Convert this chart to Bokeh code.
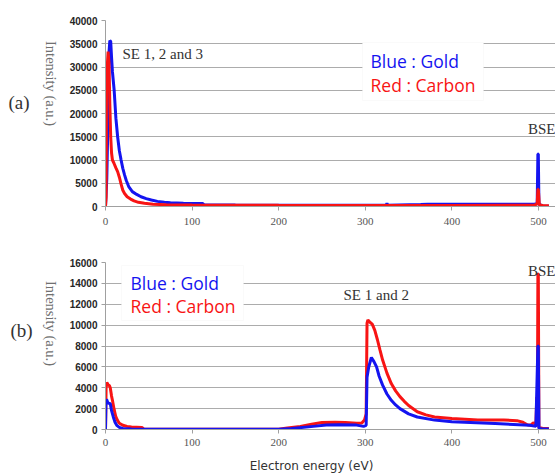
import math
from bokeh.plotting import figure
from bokeh.layouts import column, row
from bokeh.models import Range1d, SingleIntervalTicker, FixedTicker, Label, BoxAnnotation
from bokeh.core.properties import value
from bokeh.embed import file_html
from bokeh.resources import INLINE

# ---------------- data ----------------
energy_ticks = [0, 100, 200, 300, 400, 500]

# panel (a)
a_gold_e = [0, 1.5, 3, 4, 5, 6, 7, 8, 10, 12, 14, 16, 18, 20, 22, 24, 27, 31, 36, 41, 47, 53, 60, 68,
            75, 90, 112, 114, 150, 250, 324, 325, 326, 364, 372, 450, 495, 498.5, 499.3, 499.8, 500.5, 505, 512]
a_gold_i = [0, 6000, 20000, 33000, 35700, 35500, 32000, 29000, 25000, 19000, 15000, 12000, 10000, 8200,
            6800, 5600, 4200, 3200, 2600, 2100, 1700, 1400, 1100, 900, 800, 700, 650, 350, 300, 250, 250,
            700, 250, 450, 500, 500, 500, 600, 11300, 11300, 500, 100, 50]
a_carbon_e = [0, 0.7, 1.2, 2, 3, 4, 5, 6, 7, 8, 10, 12, 14, 16, 18, 20, 22, 25, 29, 33, 38, 45, 55, 70,
              100, 200, 300, 400, 495, 498.5, 499.3, 499.8, 501, 505, 512]
a_carbon_i = [0, 2000, 27000, 30000, 33300, 31000, 22000, 15000, 11500, 10000, 9200, 8300, 7500, 6300,
              4800, 3500, 2800, 2100, 1600, 1200, 900, 700, 500, 400, 300, 250, 220, 230, 250, 600, 3700,
              3700, 300, 200, 150]

# panel (b)
b_carbon_e = [0, 0.7, 1.5, 3, 4.5, 5.5, 7, 8, 10, 12, 14, 16, 20, 25, 30, 42, 44, 60, 200, 210, 225, 238,
              250, 265, 277, 290, 296, 299, 301, 302, 303, 305, 308, 311, 314, 317, 320, 325, 330, 335,
              340, 345, 350, 360, 370, 380, 400, 430, 460, 475, 482, 487, 491, 494, 497, 498, 498.7,
              499.3, 499.8, 500.5, 505, 512]
b_carbon_i = [0, 4000, 4500, 4300, 4200, 4000, 3200, 2800, 1900, 1200, 850, 600, 400, 300, 250, 200, 50,
              20, 30, 150, 300, 500, 670, 700, 670, 600, 620, 900, 1500, 10200, 10500, 10300, 10100,
              9500, 8600, 7600, 6650, 5400, 4400, 3700, 3150, 2700, 2300, 1700, 1400, 1200, 1050, 900,
              900, 850, 700, 450, 400, 650, 500, 3100, 500, 14900, 14900, 200, 100, 100]
b_gold_e = [0, 0.5, 1.2, 2.5, 4, 5.5, 7, 9, 11, 13, 16, 20, 30, 200, 215, 240, 255, 270, 290, 298, 301,
            302, 304, 307, 310, 313, 316, 320, 325, 330, 335, 340, 350, 360, 380, 400, 450, 490, 497,
            499.3, 499.8, 500.5, 505, 512]
b_gold_i = [0, 2500, 2900, 2600, 2500, 2500, 1800, 1200, 700, 400, 200, 100, 50, 30, 100, 300, 420, 450,
            420, 300, 400, 5000, 6000, 6900, 6500, 6000, 5100, 4250, 3400, 2800, 2350, 2000, 1500, 1200,
            900, 740, 580, 400, 300, 8000, 8000, 100, 50, 50]

panel_tags = ["(a)", "(b)"]
y_label = "Intensity (a.u.)"
x_label = "Electron energy (eV)"

# ---------------- styling / layout constants (page pixels) ----------------
BLUE = "#1414f0"
RED = "#f81414"
GRID = "#acacac"
SERIF = "Liberation Serif"

PAGE_W = 555
STRIP_W = 60
FRAME_LEFT = 105
PX_PER_EV = 0.866
MAIN_W = PAGE_W - STRIP_W
X_END = (PAGE_W - FRAME_LEFT) / PX_PER_EV

A_TOP, A_H, A_FT, A_FB = 0, 228, 20, 206        # panel (a): figure top, height, frame top/bottom
B_TOP, B_H, B_FT, B_FB = 228, 222, 262, 429     # panel (b)
BOT_H = 473 - A_H - B_H


def xp(px):
    return (px - FRAME_LEFT) / PX_PER_EV


def ya(py):
    return (A_FB - py) / (A_FB - A_FT) * 40000


def yb(py):
    return (B_FB - py) / (B_FB - B_FT) * 16000


def make_panel(fig_top, height, f_top, f_bot, y_end, y_step, standoff):
    p = figure(width=MAIN_W, height=height, x_range=Range1d(0, X_END), y_range=Range1d(0, y_end),
               output_backend="svg", toolbar_location=None,
               min_border_left=FRAME_LEFT - STRIP_W, min_border_right=0,
               min_border_top=f_top - fig_top, min_border_bottom=fig_top + height - f_bot)
    p.outline_line_color = None
    p.background_fill_color = "white"
    p.border_fill_color = "white"
    p.xgrid.visible = False
    p.ygrid.grid_line_color = GRID
    p.ygrid.grid_line_width = 1
    p.yaxis.ticker = SingleIntervalTicker(interval=y_step)
    p.xaxis.ticker = FixedTicker(ticks=energy_ticks)
    for ax in (p.xaxis, p.yaxis):
        ax.axis_line_color = "#a0a0a0"
        ax.major_tick_line_color = "#a0a0a0"
        ax.major_tick_out = 4
        ax.major_tick_in = 0
        ax.minor_tick_line_color = None
    p.yaxis.major_label_text_font = "Liberation Sans"
    p.yaxis.major_label_text_font_style = "bold"
    p.yaxis.major_label_text_font_size = "10px"
    p.yaxis.major_label_text_color = "#262626"
    p.yaxis.major_label_standoff = 4
    p.xaxis.major_label_text_font = SERIF
    p.xaxis.major_label_text_font_size = "11px"
    p.xaxis.major_label_text_color = "#555555"
    p.xaxis.major_label_standoff = standoff
    return p


def add_text(p, x, y, text, font, size, color, align="left"):
    p.add_layout(Label(x=x, y=y, text=text, text_font=font, text_font_size=size,
                       text_color=color, text_align=align, text_baseline="middle"))


def blank(width, height, x_end, y_end):
    f = figure(width=width, height=height, x_range=Range1d(0, x_end), y_range=Range1d(0, y_end),
               output_backend="svg", toolbar_location=None, x_axis_location=None, y_axis_location=None,
               min_border=0)
    f.outline_line_color = None
    f.xgrid.visible = False
    f.ygrid.visible = False
    f.background_fill_color = "white"
    f.border_fill_color = "white"
    return f


# ---------------- panel (a) ----------------
pa = make_panel(A_TOP, A_H, A_FT, A_FB, 40000, 5000, 7)
pa.line(a_gold_e, a_gold_i, line_color=BLUE, line_width=3)
pa.line(a_carbon_e, a_carbon_i, line_color=RED, line_width=3)
pa.add_layout(BoxAnnotation(left=xp(362), right=xp(483), top=ya(42), bottom=ya(100),
                            fill_color="white", fill_alpha=1, line_color="#eeeeee", line_width=1))
add_text(pa, xp(370), ya(60), "Blue : Gold", "Open Sans", "17.5px", BLUE)
add_text(pa, xp(370), ya(84), "Red : Carbon", "Open Sans", "17.5px", RED)
add_text(pa, xp(122), ya(53), "SE 1, 2 and 3", SERIF, "15px", "#333333")
add_text(pa, xp(555), ya(128), "BSE", SERIF, "15px", "#333333", align="right")

# ---------------- panel (b) ----------------
pb = make_panel(B_TOP, B_H, B_FT, B_FB, 16000, 2000, 5)
pb.line(b_carbon_e, b_carbon_i, line_color=RED, line_width=3)
pb.line(b_gold_e, b_gold_i, line_color=BLUE, line_width=3)
pb.add_layout(BoxAnnotation(left=xp(121), right=xp(243), top=yb(265), bottom=yb(320),
                            fill_color="white", fill_alpha=1, line_color="#eeeeee", line_width=1))
add_text(pb, xp(130), yb(282), "Blue : Gold", "Open Sans", "17.5px", BLUE)
add_text(pb, xp(130), yb(305), "Red : Carbon", "Open Sans", "17.5px", RED)
add_text(pb, xp(343), yb(294), "SE 1 and 2", SERIF, "15px", "#333333")
add_text(pb, xp(555), yb(270), "BSE", SERIF, "15px", "#333333", align="right")

# ---------------- left strip: panel tags and y-axis titles ----------------
strip_h = A_H + B_H
left = blank(STRIP_W, strip_h, STRIP_W, strip_h)
left.text(x=[8, 10], y=[strip_h - 102, strip_h - 330], text=panel_tags, text_font=value(SERIF),
          text_font_size="19px", text_color="#333333", text_align="left", text_baseline="middle")
left.text(x=[50, 50], y=[strip_h - 83, strip_h - 323], text=[y_label, y_label], angle=-math.pi / 2,
          text_font=value(SERIF), text_font_size="14.5px", text_color="#707070",
          text_align="center", text_baseline="middle")

# ---------------- bottom strip: x-axis title ----------------
bottom = blank(PAGE_W, BOT_H, PAGE_W, BOT_H)
bottom.text(x=[311], y=[BOT_H - 15], text=[x_label], text_font=value("DejaVu Sans"),
            text_font_size="12px", text_color="#333333", text_align="center", text_baseline="middle")

layout = column(row(left, column(pa, pb)), bottom)
open("out.html", "w").write(file_html(layout, INLINE))
